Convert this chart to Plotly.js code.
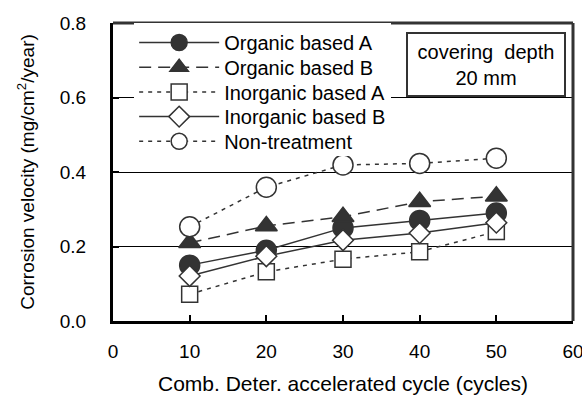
<!DOCTYPE html>
<html><head><meta charset="utf-8">
<script src="https://cdn.plot.ly/plotly-3.0.1.min.js"></script>
<style>body{margin:0;background:#fff}#c{width:582px;height:401px}</style>
</head><body><div id="c"></div>
<script>
const cycles = [10, 20, 30, 40, 50];
const organicA = [0.150, 0.190, 0.250, 0.270, 0.290];
const organicB = [0.210, 0.255, 0.280, 0.320, 0.335];
const inorganicA = [0.072, 0.132, 0.166, 0.186, 0.240];
const inorganicB = [0.121, 0.174, 0.217, 0.236, 0.264];
const nonTreatment = [0.253, 0.359, 0.419, 0.423, 0.437];
const names = ["Organic based A", "Organic based B", "Inorganic based A", "Inorganic based B", "Non-treatment"];

const dark = "#333333";
function tr(y, name, dash, symbol, filled, size) {
  return {x: cycles, y: y, name: name, type: "scatter", mode: "lines+markers",
    line: {color: dark, width: 1.5, dash: dash},
    marker: {symbol: symbol, size: size, color: filled ? dark : "#ffffff", line: {color: dark, width: 1.5}}};
}
const data = [
  tr(organicA, names[0], "solid", "circle", true, 20),
  tr(organicB, names[1], "12px,7px", "triangle-up", true, 19),
  tr(inorganicA, names[2], "4px,5px", "square", false, 16),
  tr(inorganicB, names[3], "solid", "diamond", false, 16),
  tr(nonTreatment, names[4], "4px,5px", "circle", false, 20)
];
const fam = "Liberation Sans, Arial, sans-serif";
const f = (s) => ({family: fam, size: s, color: "#000"});
const layout = {
  width: 582, height: 401,
  margin: {l: 113, r: 9, t: 23, b: 80},
  paper_bgcolor: "#fff", plot_bgcolor: "#fff",
  font: f(19),
  showlegend: true,
  legend: {x: 0.046, y: 1.0, xanchor: "left", yanchor: "top", bgcolor: "#fff",
    font: f(20), tracegroupgap: 0, itemwidth: 80},
  xaxis: {range: [0, 60], dtick: 10, tick0: 0, showline: true, linewidth: 3, linecolor: "#000",
    ticks: "inside", ticklen: 6, tickwidth: 2, tickcolor: "#000", showgrid: false, zeroline: false,
    tickfont: f(19), ticklabelstandoff: 11, ticklabeloverflow: "allow",
    title: {text: "Comb. Deter. accelerated cycle (cycles)", font: f(21), standoff: 16}},
  yaxis: {range: [0, 0.8], dtick: 0.2, tick0: 0, tickformat: ".1f", showline: true, linewidth: 3, linecolor: "#000",
    ticks: "inside", ticklen: 6, tickwidth: 2, tickcolor: "#000", showgrid: true, gridcolor: "#000", gridwidth: 1,
    zeroline: false, tickfont: f(19), ticklabelstandoff: 20,
    title: {text: "Corrosion velocity (mg/cm<sup>2</sup>/year)", font: f(19), standoff: 21}},
  shapes: [
    {type: "line", xref: "paper", yref: "paper", x0: 0, x1: 1, y0: 1, y1: 1, line: {color: dark, width: 3}},
    {type: "line", xref: "paper", yref: "paper", x0: 1, x1: 1, y0: 0, y1: 1, line: {color: dark, width: 3}}
  ],
  annotations: [
    {xref: "paper", yref: "paper", x: 0.811, y: 0.861, xanchor: "center", yanchor: "middle",
     text: "covering  depth<br>20 mm", showarrow: false, font: f(20), align: "center",
     bgcolor: "#fff", bordercolor: dark, borderwidth: 2, borderpad: 0, width: 156, height: 61}
  ]
};
Plotly.newPlot("c", data, layout, {displayModeBar: false}).then(function (gd) {
  // tighten legend row spacing to match the reference
  const rowGap = 24.7;
  const items = gd.querySelectorAll(".legend .traces");
  if (!items.length) return;
  const parse = (t) => { const m = /translate\(\s*([-\d.]+)[ ,]+([-\d.]+)/.exec(t || ""); return m ? [parseFloat(m[1]), parseFloat(m[2])] : [0, 0]; };
  const first = parse(items[0].getAttribute("transform"));
  let oldLast = first[1];
  items.forEach(function (g, i) {
    const p = parse(g.getAttribute("transform"));
    oldLast = p[1];
    g.setAttribute("transform", "translate(" + p[0] + "," + (first[1] + i * rowGap) + ")");
  });
  const shrink = oldLast - (first[1] + (items.length - 1) * rowGap) + 5;
  const bg = gd.querySelector(".legend rect.bg");
  if (bg) bg.setAttribute("height", parseFloat(bg.getAttribute("height")) - shrink);
});
</script></body></html>
